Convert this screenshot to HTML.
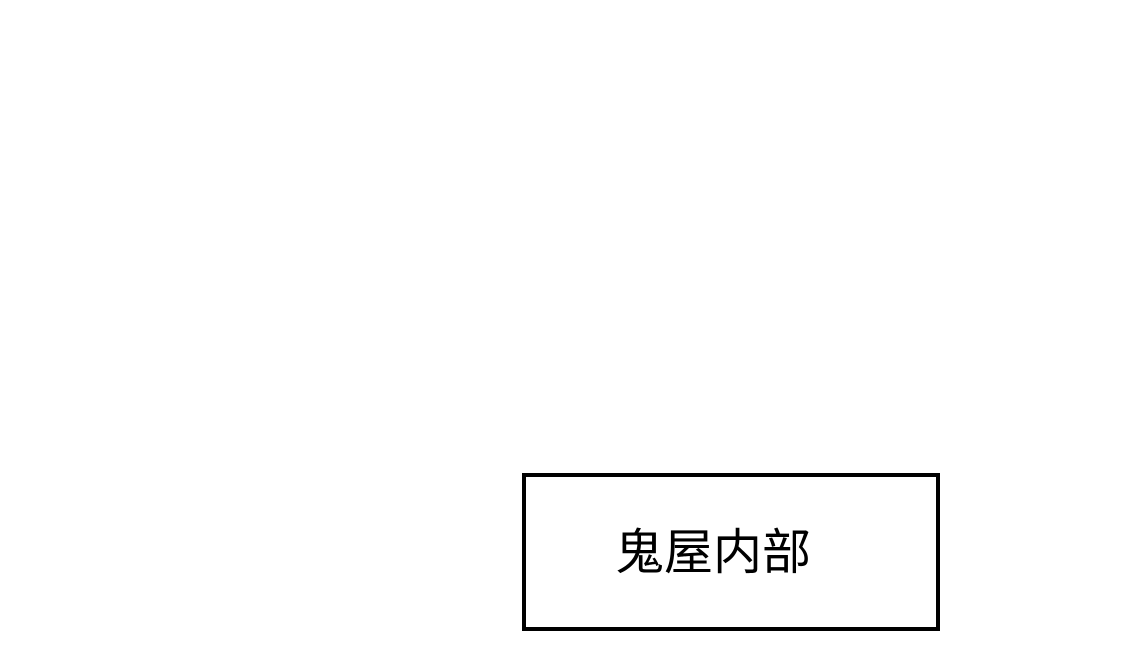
<!DOCTYPE html>
<html><head><meta charset="utf-8"><style>
html,body{margin:0;padding:0;background:#fff;width:1125px;height:667px;overflow:hidden;position:relative}
.box{position:absolute;left:522px;top:473px;width:410px;height:150px;border:4px solid #000;background:#fff}
.t{position:absolute;left:615px;top:524px;font-family:"Liberation Sans","Noto Sans CJK SC",sans-serif;font-size:49px;font-weight:400;line-height:58px;color:#000;white-space:nowrap}
</style></head><body>
<div class="box"></div>
<div class="t">鬼屋内部</div>
</body></html>
